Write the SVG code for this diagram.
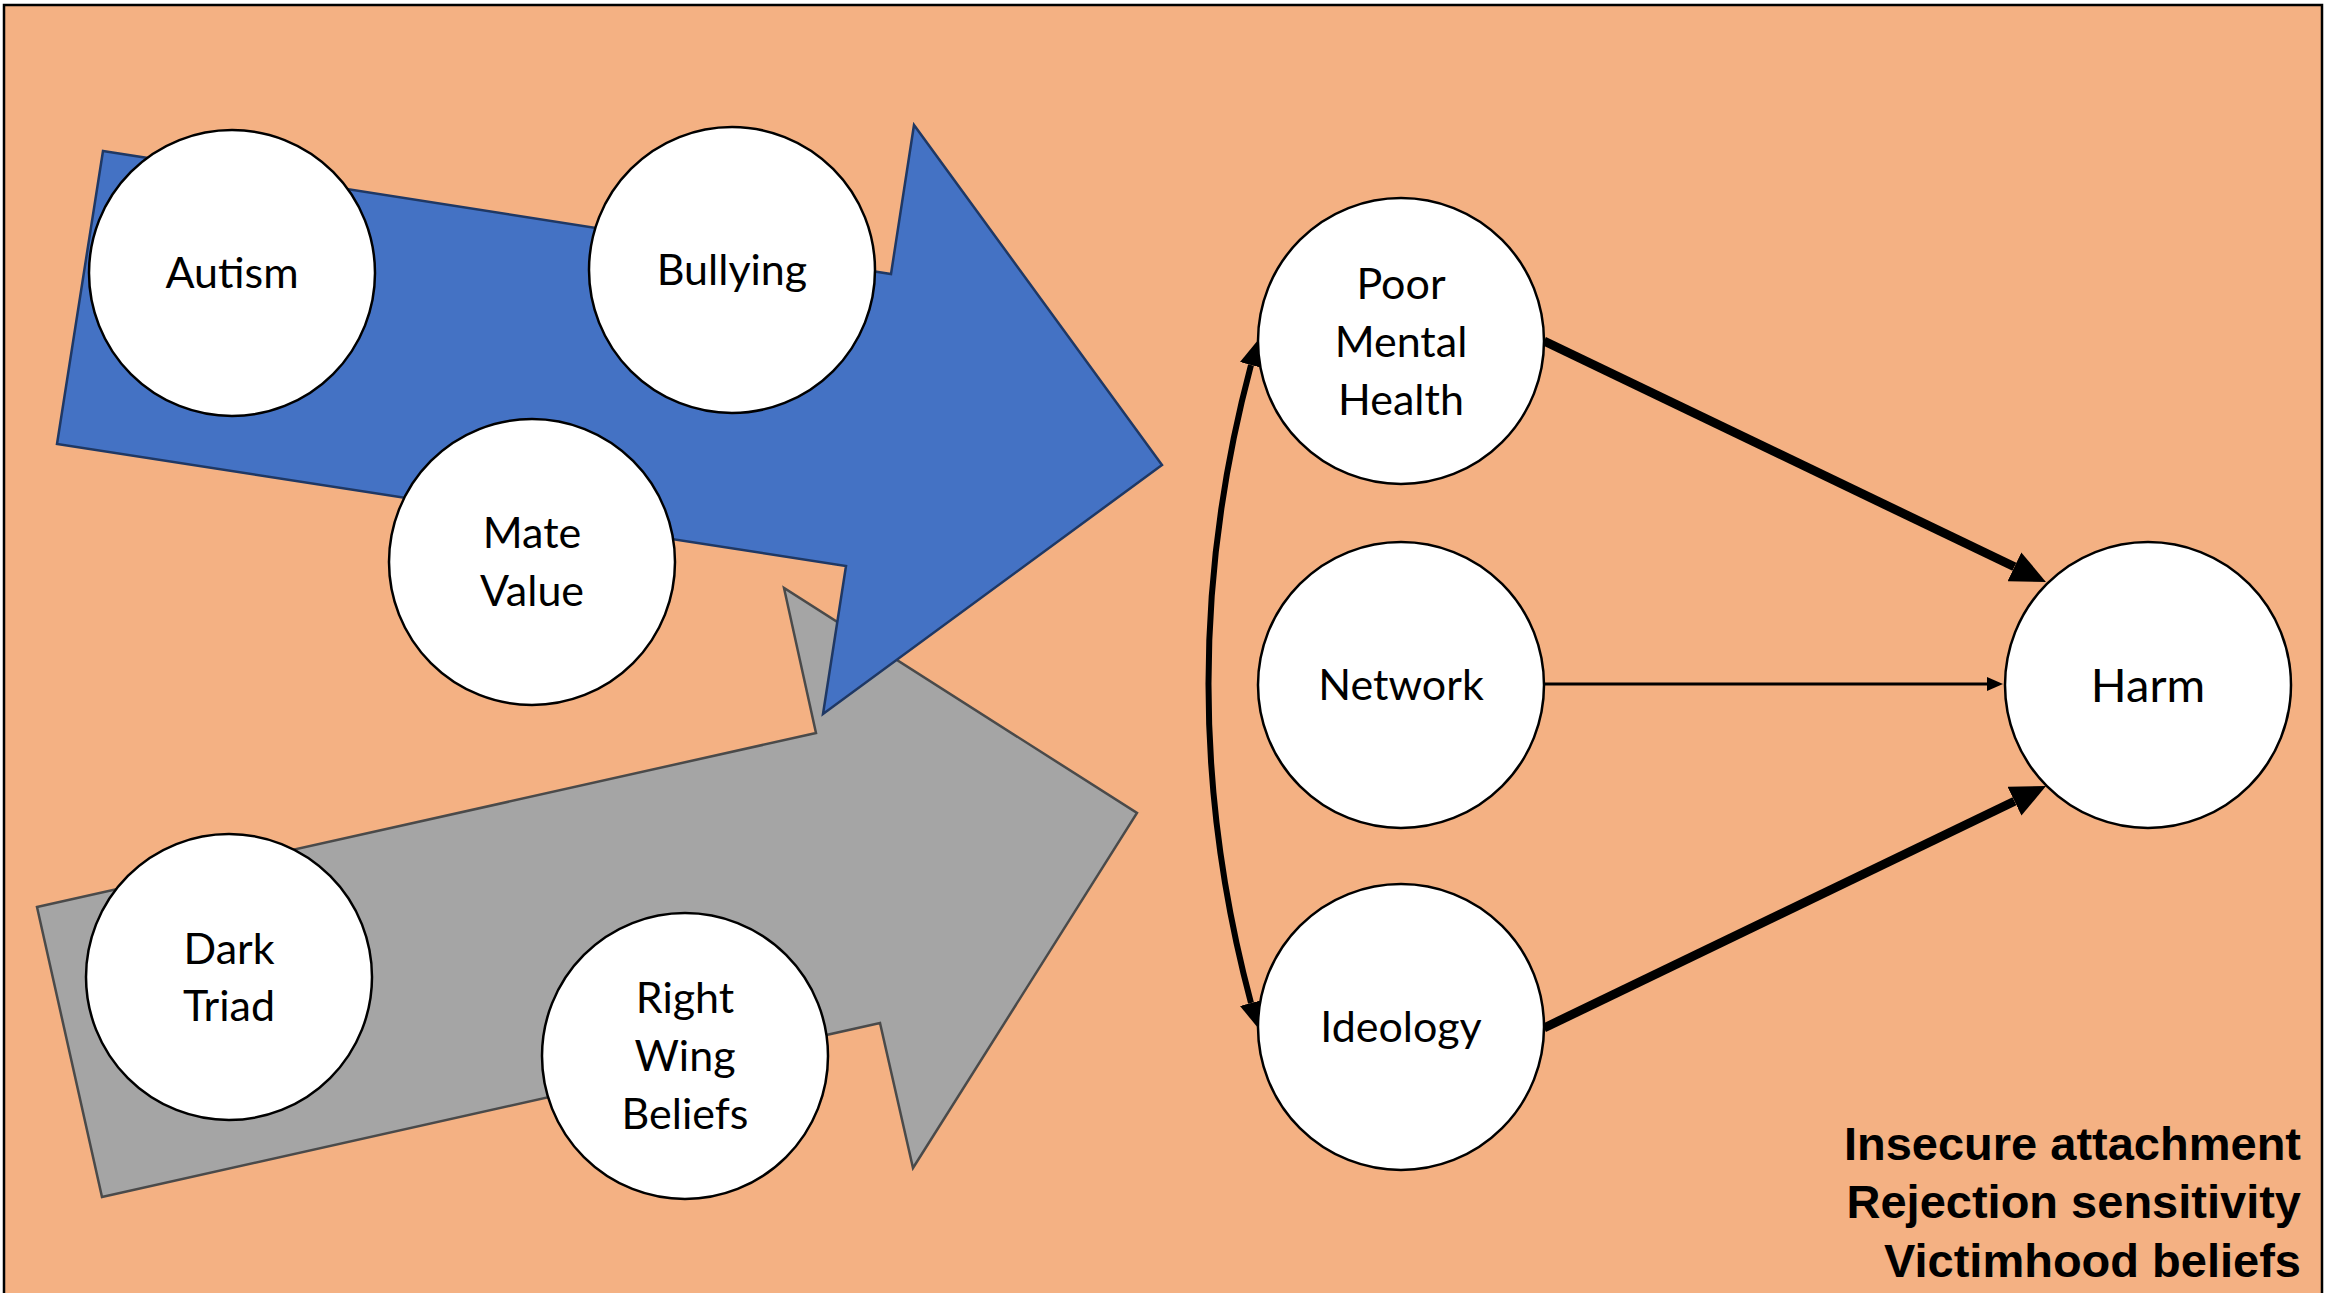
<svg xmlns="http://www.w3.org/2000/svg" width="2325" height="1293" viewBox="0 0 2325 1293">
<defs>
<style>
.node{fill:#fff;stroke:#000;stroke-width:2.5}
.lbl{font-family:Lato,"Open Sans",sans-serif;font-size:43px;fill:#000;text-anchor:middle}
.legend{font-family:"Liberation Sans",Arial,sans-serif;font-size:47px;font-weight:bold;fill:#000;text-anchor:end}
.conn{fill:none;stroke:#000}
</style>
<marker id="mThick" viewBox="0 0 35 32" markerUnits="userSpaceOnUse" markerWidth="35" markerHeight="32" refX="0" refY="16" orient="auto">
<path d="M0,0 L35,16 L0,32 z" fill="#000"/>
</marker>
<marker id="mThin" viewBox="0 0 16 14" markerUnits="userSpaceOnUse" markerWidth="16" markerHeight="14" refX="0" refY="7" orient="auto">
<path d="M0,0 L16,7 L0,14 z" fill="#000"/>
</marker>
<marker id="mMid" viewBox="0 0 25 23" markerUnits="userSpaceOnUse" markerWidth="25" markerHeight="23" refX="0" refY="11.5" orient="auto-start-reverse">
<path d="M0,0 L25,11.5 L0,23 z" fill="#000"/>
</marker>
</defs>
<rect x="4" y="5" width="2318" height="1300" fill="#F4B183" stroke="#000" stroke-width="2.5"/>

<g id="gray-arrow">
<polygon points="37,907 816,733 784,588 1137,813 913,1168 880,1023 102,1197" fill="#A5A5A5" stroke="#4A4A4A" stroke-width="2.5" stroke-linejoin="miter"/>
</g>
<g id="blue-arrow">
<polygon points="103,151 891,274 914,125 1162,465 823,714 846,566 57,444" fill="#4472C4" stroke="#1F3864" stroke-width="2.5" stroke-linejoin="miter"/>
</g>

<g id="connectors">
<path class="conn" d="M1544,341 L2014.4,566.8" stroke-width="9" marker-end="url(#mThick)"/>
<path class="conn" d="M1544,1028 L2014.5,801.2" stroke-width="9" marker-end="url(#mThick)"/>
<path class="conn" d="M1545,684 L1987,684" stroke-width="3" marker-end="url(#mThin)"/>
<path class="conn" d="M1251,365 Q1166,684 1251,1003" stroke-width="6" marker-start="url(#mMid)" marker-end="url(#mMid)"/>
</g>

<g id="autism">
<circle class="node" cx="232" cy="273" r="143"/>
<text class="lbl" x="232" y="288">Autism</text>
</g>
<g id="bullying">
<circle class="node" cx="732" cy="270" r="143"/>
<text class="lbl" x="732" y="285">Bullying</text>
</g>
<g id="mate-value">
<circle class="node" cx="532" cy="562" r="143"/>
<text class="lbl" x="532" y="548">Mate</text>
<text class="lbl" x="532" y="606">Value</text>
</g>
<g id="dark-triad">
<circle class="node" cx="229" cy="977" r="143"/>
<text class="lbl" x="229" y="964">Dark</text>
<text class="lbl" x="229" y="1021">Triad</text>
</g>
<g id="right-wing-beliefs">
<circle class="node" cx="685" cy="1056" r="143"/>
<text class="lbl" x="685" y="1013">Right</text>
<text class="lbl" x="685" y="1071">Wing</text>
<text class="lbl" x="685" y="1129">Beliefs</text>
</g>
<g id="poor-mental-health">
<circle class="node" cx="1401" cy="341" r="143"/>
<text class="lbl" x="1401" y="299">Poor</text>
<text class="lbl" x="1401" y="357">Mental</text>
<text class="lbl" x="1401" y="415">Health</text>
</g>
<g id="network">
<circle class="node" cx="1401" cy="685" r="143"/>
<text class="lbl" x="1401" y="700">Network</text>
</g>
<g id="ideology">
<circle class="node" cx="1401" cy="1027" r="143"/>
<text class="lbl" x="1401" y="1042">Ideology</text>
</g>
<g id="harm">
<circle class="node" cx="2148" cy="685" r="143"/>
<text class="lbl" x="2148" y="702" style="font-size:47px">Harm</text>
</g>

<g id="legend">
<text class="legend" x="2301" y="1160">Insecure attachment</text>
<text class="legend" x="2301" y="1218">Rejection sensitivity</text>
<text class="legend" x="2301" y="1277">Victimhood beliefs</text>
</g>
</svg>
